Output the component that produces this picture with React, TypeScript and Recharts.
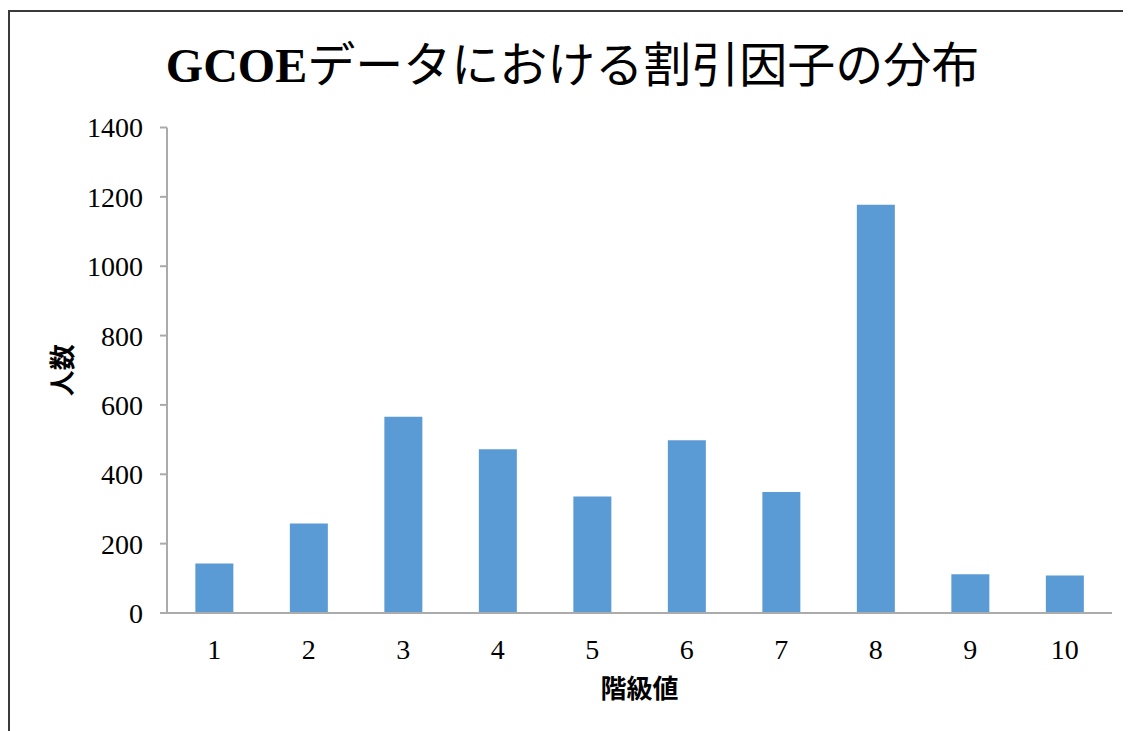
import React from "react";
import { BarChart, Bar, XAxis, YAxis, Label } from "recharts";

// 階級値 (class value) and the number of people in each class
const classes = ["1", "2", "3", "4", "5", "6", "7", "8", "9", "10"];
const counts = [143, 258, 566, 472, 336, 498, 349, 1177, 112, 108];
const yTicks = [0, 200, 400, 600, 800, 1000, 1200, 1400];

const title = "データにおける割引因子の分布";
const titlePrefix = "GCOE";
const xTitle = "階級値";
const yTitle = "人数";

const serif = "'Liberation Serif', serif";
const gothic = "'Noto Sans CJK JP', sans-serif";
const axisColor = "#ABABAB";

export default function App() {
  const data = classes.map((c, i) => ({ name: c, value: counts[i] }));

  return (
    <div
      style={{
        marginTop: 2,
        width: 1121,
        height: 719,
        borderTop: "2px solid #3a3a3a",
        borderLeft: "2px solid #3a3a3a",
      }}
    >
      <BarChart
        width={1121}
        height={719}
        data={data}
        barCategoryGap="30%"
        margin={{ top: 115.5, right: 19, bottom: 28, left: 57 }}
      >
        <text x={562.5} y={70} textAnchor="middle" fill="#000">
          <tspan fontFamily={serif} fontWeight="bold" fontSize={48}>
            {titlePrefix}
          </tspan>
          <tspan fontFamily={gothic} fontSize={48}>
            {title}
          </tspan>
        </text>
        <XAxis
          dataKey="name"
          height={90}
          tickLine={false}
          tickSize={0}
          tickMargin={26}
          axisLine={{ stroke: axisColor, strokeWidth: 2 }}
          tick={{ fill: "#000", fontFamily: serif, fontSize: 28 }}
        >
          <Label
            content={({ viewBox }: any) => (
              <text
                x={viewBox.x + viewBox.width / 2}
                y={viewBox.y + 85}
                textAnchor="middle"
                fontFamily={gothic}
                fontWeight="bold"
                fontSize={26}
                fill="#000"
              >
                {xTitle}
              </text>
            )}
          />
        </XAxis>
        <YAxis
          width={100}
          domain={[0, 1400]}
          ticks={yTicks}
          tickSize={7}
          tickMargin={17}
          axisLine={{ stroke: axisColor, strokeWidth: 2 }}
          tickLine={{ stroke: axisColor, strokeWidth: 2 }}
          tick={{ fill: "#000", fontFamily: serif, fontSize: 28 }}
        >
          <Label
            content={({ viewBox }: any) => {
              const cx = viewBox.x - 7;
              const cy = viewBox.y + viewBox.height / 2;
              return (
                <text
                  x={cx}
                  y={cy}
                  transform={`rotate(-90 ${cx} ${cy})`}
                  textAnchor="middle"
                  dominantBaseline="central"
                  fontFamily={gothic}
                  fontWeight="bold"
                  fontSize={26}
                  fill="#000"
                >
                  {yTitle}
                </text>
              );
            }}
          />
        </YAxis>
        <Bar dataKey="value" fill="#5B9BD5" isAnimationActive={false} />
      </BarChart>
    </div>
  );
}
